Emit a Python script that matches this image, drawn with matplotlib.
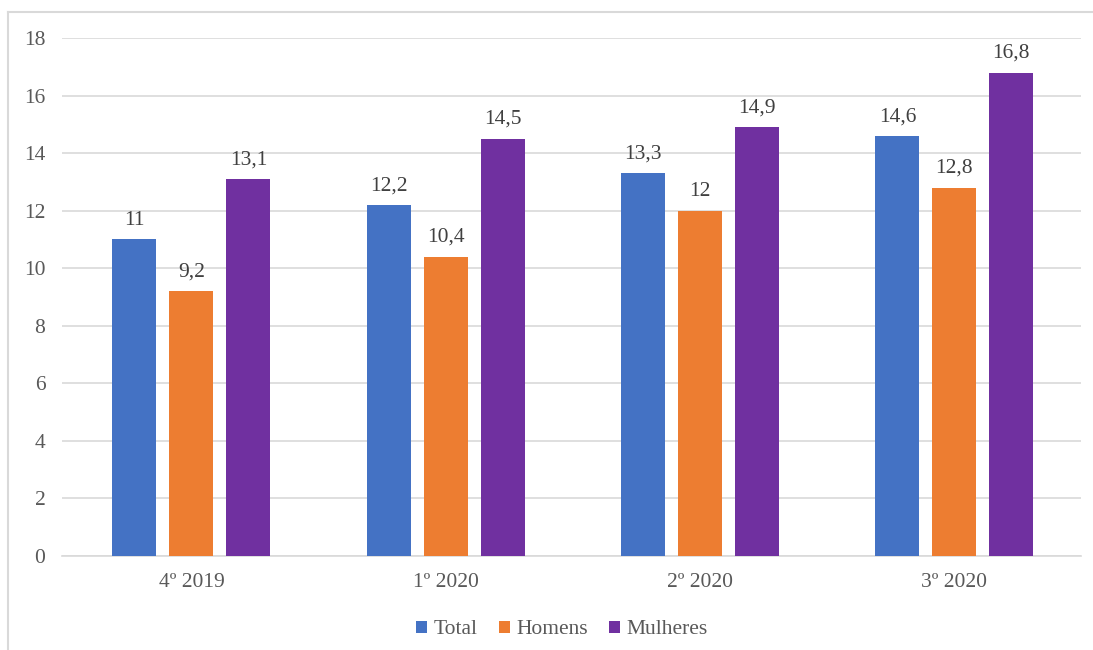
import matplotlib
matplotlib.use("Agg")
import matplotlib.pyplot as plt
from matplotlib.lines import Line2D
import numpy as np

categories = ["4º 2019", "1º 2020", "2º 2020", "3º 2020"]
series_names = ["Total", "Homens", "Mulheres"]
total = [11, 12.2, 13.3, 14.6]
homens = [9.2, 10.4, 12, 12.8]
mulheres = [13.1, 14.5, 14.9, 16.8]
colors = ["#4472C4", "#ED7D31", "#7030A0"]
yticks = [0, 2, 4, 6, 8, 10, 12, 14, 16, 18]

plt.rcParams['font.family'] = ['Liberation Serif', 'DejaVu Serif']
W, H = 1093, 650
FS = 15.5
fig = plt.figure(figsize=(W / 100, H / 100), dpi=100)
ax = fig.add_axes([62 / W, 1 - 556 / H, (1081 - 62) / W, (556 - 38) / H])

x = np.arange(len(categories))
bw = 0.173
step = 0.224
txt = "#595959"
for i, (vals, name) in enumerate(zip([total, homens, mulheres], series_names)):
    pos = x + (i - 1) * step
    bars = ax.bar(pos, vals, width=bw, color=colors[i], label=name, zorder=3)
    for b, v in zip(bars, vals):
        lab = f"{v:g}".replace(".", ",")
        ax.annotate(lab, (b.get_x() + b.get_width() / 2, v), xytext=(0, 7),
                    textcoords="offset points", ha="center", va="bottom",
                    fontsize=FS, color="#404040")

ax.set_xlim(-0.509, 3.498)
ax.set_ylim(0, 18)
ax.set_yticks(yticks)
ax.set_yticklabels([str(t) for t in yticks], fontsize=FS, color=txt)
ax.set_xticks(x)
ax.set_xticklabels(categories, fontsize=FS, color=txt)
ax.tick_params(length=0)
ax.tick_params(axis="y", pad=12)
ax.tick_params(axis="x", pad=12)
ax.grid(axis="y", color="#D9D9D9", linewidth=1.2, zorder=0)
for s in ["top", "right", "left"]:
    ax.spines[s].set_visible(False)
ax.spines["bottom"].set_color("#D9D9D9")
ax.spines["bottom"].set_linewidth(1.2)

fig.legend(loc="center", bbox_to_anchor=(562 / W, 1 - 630 / H), ncol=3,
           frameon=False, fontsize=FS, handlelength=0.5, handleheight=0.5,
           handletextpad=0.3, columnspacing=1.0, labelcolor=txt)

fig.add_artist(Line2D([8 / W, 8 / W], [0, 1 - 12 / H], transform=fig.transFigure,
                      color="#D9D9D9", linewidth=1.5))
fig.add_artist(Line2D([8 / W, 1], [1 - 12 / H, 1 - 12 / H], transform=fig.transFigure,
                      color="#D9D9D9", linewidth=1.5))

fig.savefig("out.png", dpi=100)
